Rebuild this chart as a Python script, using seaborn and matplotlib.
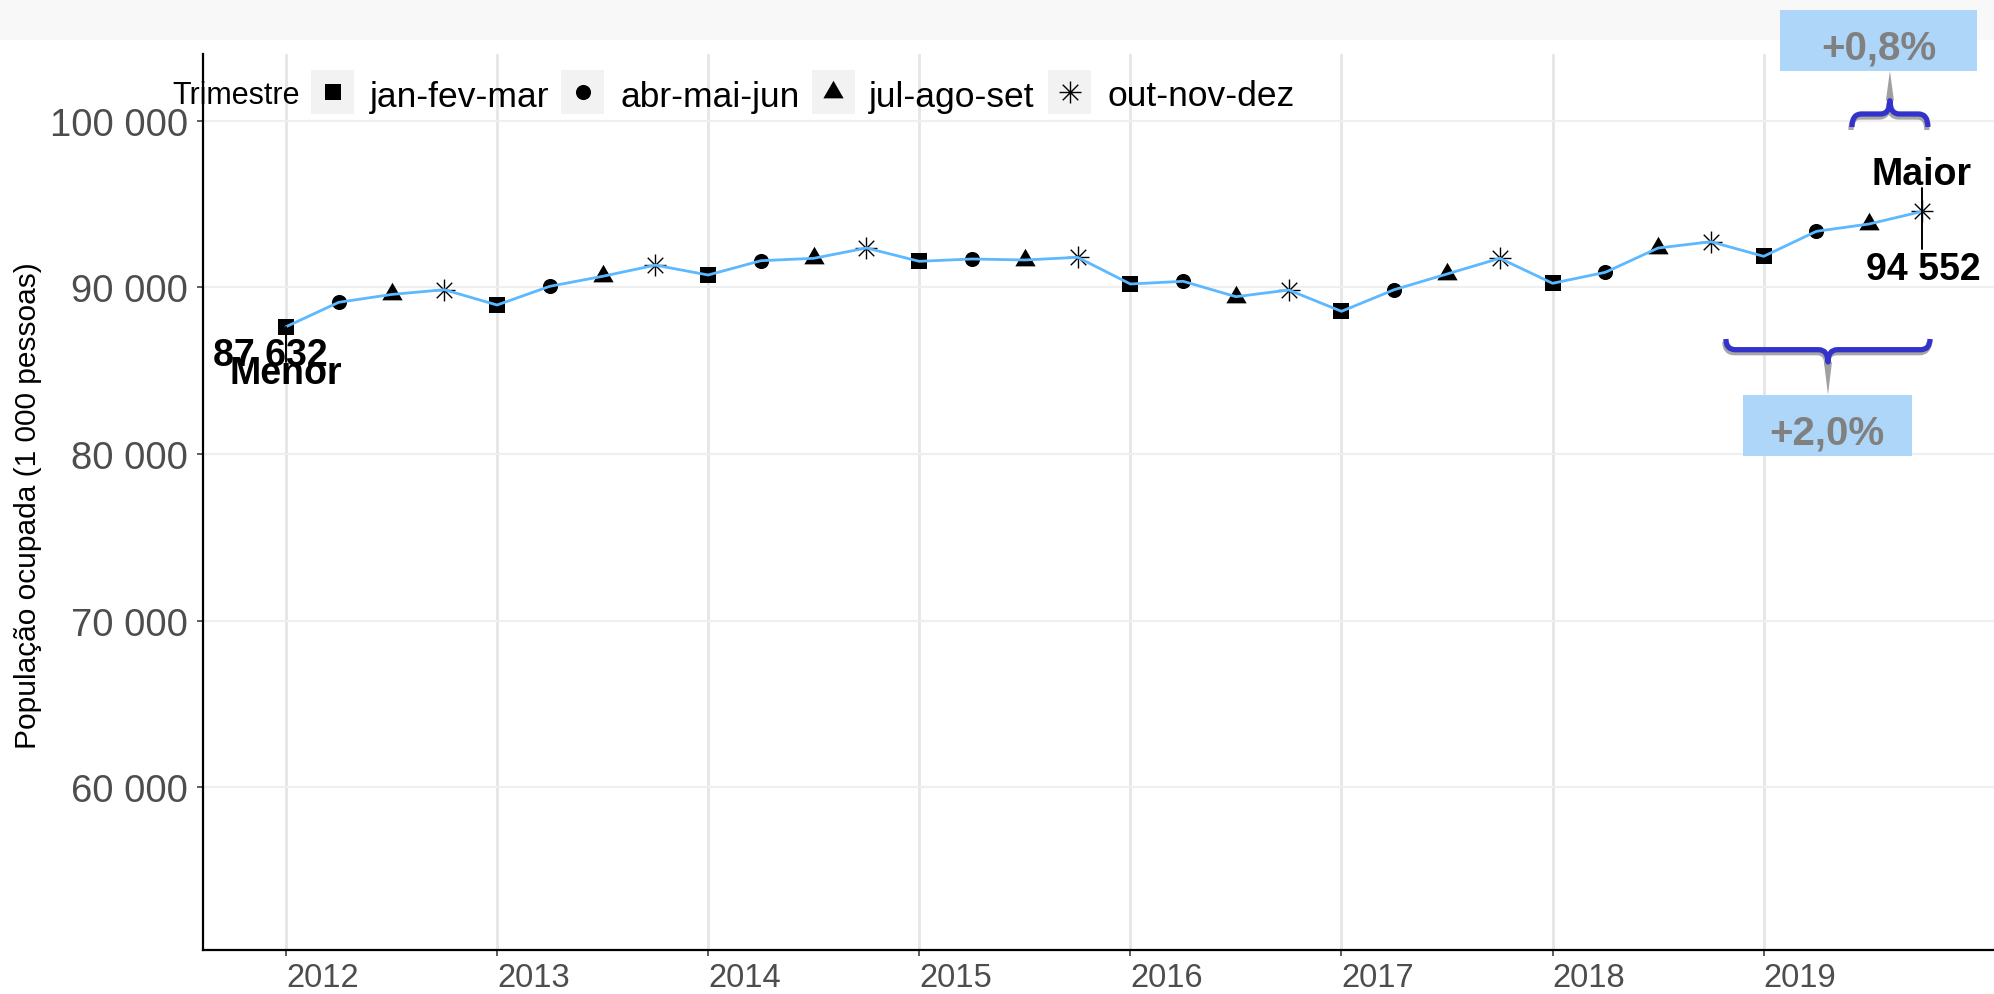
import matplotlib
matplotlib.use("Agg")
import numpy as np
import pandas as pd
import matplotlib.pyplot as plt
import seaborn as sns
from matplotlib.path import Path
from matplotlib.patches import PathPatch, Rectangle, Polygon
from matplotlib.lines import Line2D
import matplotlib.transforms as mtransforms

# ---------------- data ----------------
anos = [2012, 2013, 2014, 2015, 2016, 2017, 2018, 2019]
trimestres = ["jan-fev-mar", "abr-mai-jun", "jul-ago-set", "out-nov-dez"]
ocupada = [87632, 89100, 89570, 89856,
           88938, 90060, 90660, 91330,
           90738, 91597, 91740, 92359,
           91560, 91699, 91639, 91800,
           90198, 90360, 89436, 89838,
           88559, 89856, 90798, 91741,
           90240, 90900, 92359, 92736,
           91860, 93361, 93801, 94552]
y_ticks = [60000, 70000, 80000, 90000, 100000]
rotulo_menor = "Menor"
rotulo_maior = "Maior"
var_trimestral = "+0,8%"
var_anual = "+2,0%"
titulo_legenda = "Trimestre"
titulo_y = "População ocupada (1 000 pessoas)"

def fmt(v):
    return f"{v:,}".replace(",", " ")

df = pd.DataFrame({
    "ano": np.repeat(anos, 4),
    "tri": np.tile(np.arange(4), len(anos)),
    "ocupada": ocupada,
})
df["x"] = df["ano"] + df["tri"] / 4
df["Trimestre"] = [trimestres[i] for i in df["tri"]]

# ---------------- style ----------------
sns.set_theme(style="white")
plt.rcParams["font.family"] = ["Liberation Sans", "DejaVu Sans"]

W, H = 1994, 995
fig = plt.figure(figsize=(W / 100, H / 100), dpi=100)
fig.patch.set_facecolor("white")

def fx(px):
    return px / W

def fy(py):
    return 1 - py / H

# top light band
fig.add_artist(Rectangle((0, fy(41)), 1, 41 / H, transform=fig.transFigure,
                         facecolor="#f8f8f8", edgecolor="none", zorder=-5))

ax = fig.add_axes([fx(203), fy(951), 1 - fx(203), fy(55) - fy(951)])
ax.set_facecolor("white")

# markers
tri_path = Path([(0, 1), (-0.866, -0.5), (0.866, -0.5), (0, 1)],
                [Path.MOVETO, Path.LINETO, Path.LINETO, Path.CLOSEPOLY])
ang = np.deg2rad([0, 45, 90, 135])
ast_verts, ast_codes = [], []
for a in ang:
    ast_verts += [(-np.cos(a), -np.sin(a)), (np.cos(a), np.sin(a))]
    ast_codes += [Path.MOVETO, Path.LINETO]
ast_path = Path(ast_verts, ast_codes)

marker_specs = {
    "jan-fev-mar": dict(marker="s", s=118, linewidth=0, edgecolor="black"),
    "abr-mai-jun": dict(marker="o", s=118, linewidth=0, edgecolor="black"),
    "jul-ago-set": dict(marker=tri_path, s=285, linewidth=0, edgecolor="black"),
    "out-nov-dez": dict(marker=ast_path, s=250, linewidth=1.0, edgecolor="black"),
}

for t in trimestres:
    sub = df[df["Trimestre"] == t]
    sns.scatterplot(data=sub, x="x", y="ocupada", color="black", ax=ax,
                    zorder=3, legend=False, **marker_specs[t])

sns.lineplot(data=df, x="x", y="ocupada", color="#5cb8ff", linewidth=2.0,
             ax=ax, zorder=4, legend=False)

# axes limits, ticks, grid
ax.set_xlim(2011.607, 2020.091)
ax.set_ylim(50224, 104003)
ax.set_xticks(anos)
ax.set_xticklabels([str(a) for a in anos])
ax.set_yticks(y_ticks)
ax.set_yticklabels([fmt(v) for v in y_ticks])
for lab in ax.get_xticklabels():
    lab.set_horizontalalignment("left")

ax.grid(False)
for a in anos:
    ax.axvline(a, color="#e6e6e6", lw=2.0, zorder=0)
for v in y_ticks:
    ax.axhline(v, color="#efefef", lw=1.6, zorder=0)

for s in ["top", "right"]:
    ax.spines[s].set_visible(False)
for s in ["left", "bottom"]:
    ax.spines[s].set_color("black")
    ax.spines[s].set_linewidth(1.6)

ax.tick_params(axis="y", which="major", length=4.5, width=1.1, color="#333333",
               labelcolor="#4d4d4d", labelsize=27.5, pad=6.5, left=True)
ax.tick_params(axis="x", which="major", length=4.5, width=1.1, color="#333333",
               labelcolor="#4d4d4d", labelsize=23.5, pad=4, bottom=True)

ax.set_xlabel("")
ax.set_ylabel(titulo_y, fontsize=21.5, color="black")
ax.yaxis.set_label_coords((41.7 - 203) / (W - 203), 0.497)

# --------------- min / max labels ---------------
i_min = int(np.argmin(ocupada))
i_max = int(np.argmax(ocupada))
x_min, y_min = df["x"][i_min], ocupada[i_min]
x_max, y_max = df["x"][i_max], ocupada[i_max]

ax.plot([x_min, x_min], [y_min, 85500], color="black", lw=1.4, zorder=5)
ax.plot([x_max, x_max], [95960, 92299], color="black", lw=1.4, zorder=5)

bold = dict(fontsize=27, fontweight="bold", color="black", zorder=6)
ax.text(x_min - 0.076, 85336, fmt(y_min), ha="center", va="baseline", **bold)
ax.text(x_min, 84256, rotulo_menor, ha="center", va="baseline", **bold)
ax.text(x_max, 96200, rotulo_maior, ha="center", va="baseline", **bold)
ax.text(x_max + 0.005, 90498, fmt(y_max), ha="center", va="baseline", **bold)

# --------------- braces ---------------
def brace_path(x0, x1, y_end, y_bar, y_tip, rx):
    xm = (x0 + x1) / 2
    verts = [(x0, y_end), (x0, y_bar), (x0 + rx, y_bar),
             (xm - rx, y_bar),
             (xm, y_bar), (xm, y_tip),
             (xm, y_bar), (xm + rx, y_bar),
             (x1 - rx, y_bar),
             (x1, y_bar), (x1, y_end)]
    codes = [Path.MOVETO, Path.CURVE3, Path.CURVE3,
             Path.LINETO,
             Path.CURVE3, Path.CURVE3,
             Path.CURVE3, Path.CURVE3,
             Path.LINETO,
             Path.CURVE3, Path.CURVE3]
    return Path(verts, codes)

shadow_tr = ax.transData + mtransforms.ScaledTranslation(-1 / 100, -3 / 100,
                                                         fig.dpi_scale_trans)

def draw_brace(x0, x1, y_end, y_bar, y_tip, y_box, box, label, label_y):
    p = brace_path(x0, x1, y_end, y_bar, y_tip, 0.045)
    ax.add_patch(PathPatch(p, facecolor="none", edgecolor="#a6a6a6", lw=3.8,
                           transform=shadow_tr, clip_on=False, zorder=6,
                           capstyle="butt", joinstyle="round"))
    ax.add_patch(PathPatch(p, facecolor="none", edgecolor="#3333cc", lw=3.8,
                           clip_on=False, zorder=7,
                           capstyle="butt", joinstyle="round"))
    xm = (x0 + x1) / 2
    ax.add_patch(Polygon([(xm - 0.019, y_tip), (xm + 0.019, y_tip), (xm, y_box)],
                         closed=True, facecolor="#a0a0a0", edgecolor="none",
                         clip_on=False, zorder=6))
    bx0, bx1, by0, by1 = box
    ax.add_patch(Rectangle((bx0, by0), bx1 - bx0, by1 - by0, facecolor="#add6f8",
                           edgecolor="none", clip_on=False, zorder=8))
    ax.text((bx0 + bx1) / 2, label_y, label, ha="center", va="baseline",
            fontsize=29, fontweight="bold", color="#808080", zorder=9,
            clip_on=False)

draw_brace(2019.418, 2019.778, 99621, 100402, 101200, 103000,
           (2019.077, 2020.01, 103000, 106643), var_trimestral, 103703)
draw_brace(2018.821, 2019.788, 86897, 86255, 85517, 83536,
           (2018.90, 2019.703, 79893, 83536), var_anual, 80595)

# --------------- legend (manual, ggplot-like) ---------------
fig.text(fx(172), fy(104), titulo_legenda, fontsize=22, color="black",
         ha="left", va="baseline", zorder=10)
key_centers = [332.5, 582.5, 833, 1069.5]
label_left = [370, 620.5, 869, 1107.6]
for t, kc, ll in zip(trimestres, key_centers, label_left):
    fig.add_artist(Rectangle((fx(kc - 21.5), fy(115)), 43 / W, 44 / H,
                             transform=fig.transFigure, facecolor="#f2f2f2",
                             edgecolor="none", zorder=10))
    spec = marker_specs[t]
    ms = np.sqrt(spec["s"])
    fig.add_artist(Line2D([fx(kc)], [fy(93)], marker=spec["marker"],
                          markersize=ms, markerfacecolor="black",
                          markeredgecolor="black",
                          markeredgewidth=spec["linewidth"], linestyle="none",
                          transform=fig.transFigure, zorder=11))
    fig.text(fx(ll), fy(106.5), t, fontsize=25.5, color="black",
             ha="left", va="baseline", zorder=10)

fig.savefig("out.png", dpi=100)
